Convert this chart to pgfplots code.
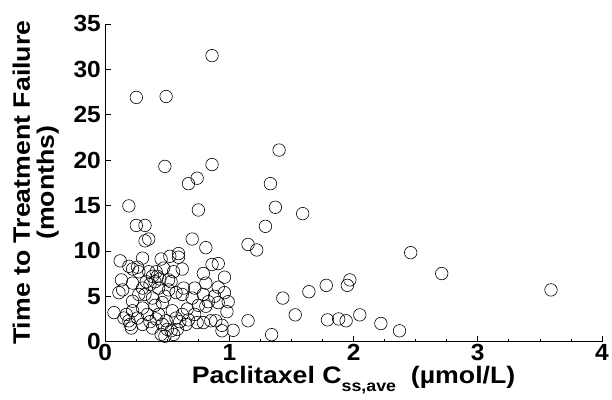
\documentclass[border=0pt]{standalone}
\usepackage{fontspec}
\setmainfont{Liberation Sans}
\newfontfamily\ticfont[FakeStretch=1.05]{Liberation Sans}
\newfontfamily\lblfont[FakeStretch=1.12]{Liberation Sans}
\usepackage{pgfplots}
\pgfplotsset{compat=1.18}

\pgfplotstableread{
x y
0.86 31.5
0.25 26.9
0.49 27.0
0.48 19.3
0.86 19.5
1.40 21.1
0.74 18.0
0.67 17.4
1.33 17.4
0.19 14.95
0.75 14.5
1.37 14.8
1.59 14.1
0.25 12.8
0.32 12.8
1.29 12.7
0.32 11.1
0.35 11.3
0.70 11.3
0.81 10.35
1.15 10.7
1.22 10.1
2.46 9.8
2.71 7.5
1.97 6.8
1.95 6.2
1.78 6.2
1.64 5.5
1.43 4.8
1.53 2.95
1.15 2.3
1.79 2.4
1.88 2.5
1.94 2.3
2.05 2.95
2.22 2.0
2.37 1.2
1.34 0.77
3.59 5.7
1.03 1.25
0.12 8.9
0.19 8.3
0.22 8.0
0.30 9.2
0.45 9.1
0.52 9.4
0.59 9.7
0.59 9.3
0.62 8.0
0.55 7.7
0.86 8.5
0.91 8.6
0.79 7.5
0.96 7.1
0.81 6.45
0.91 6.0
0.72 5.9
0.63 5.9
0.53 6.6
0.35 7.7
0.38 7.2
0.41 7.7
0.47 8.1
0.27 7.7
0.13 6.8
0.51 6.8
0.22 6.45
0.30 5.9
0.43 5.9
0.14 5.7
0.51 5.7
0.99 4.4
0.96 5.4
0.91 4.3
0.83 4.4
0.85 2.3
0.79 2.1
0.89 2.3
0.94 1.8
0.94 1.2
0.74 2.1
0.67 2.4
0.62 3.0
0.62 5.2
0.70 4.8
0.79 5.2
0.81 3.9
0.57 5.4
0.54 3.4
0.58 1.35
0.55 0.8
0.11 5.4
0.07 3.2
0.17 3.0
0.19 2.3
0.21 1.5
0.30 1.9
0.30 3.7
0.22 4.45
0.38 4.8
0.27 5.2
0.43 3.0
0.49 2.3
0.50 1.35
0.53 1.2
0.38 1.5
0.22 3.4
0.32 5.2
0.36 6.3
0.40 6.6
0.44 6.9
0.33 6.6
0.46 4.3
0.40 4.0
0.34 3.0
0.26 2.6
0.41 2.5
0.46 1.9
0.15 2.6
0.20 1.9
0.36 2.2
0.42 7.2
0.48 5.0
0.66 3.6
0.72 3.0
0.75 4.0
0.88 5.0
0.98 3.3
0.57 2.6
0.60 2.2
0.45 0.8
0.48 0.6
0.65 1.9
0.26 8.2
}\ttfdata

\begin{document}
\begin{tikzpicture}
\begin{axis}[
    name=ax,
    scale only axis,
    width=500pt, height=320pt,
    xmin=0, xmax=4, ymin=0, ymax=35,
    axis lines=left,
    axis line style={-, line width=0.6pt},
    xtick={0,1,2,3,4}, ytick={0,5,...,35},
    minor x tick num=3,
    tick align=inside,
    major tick length=6pt, minor tick length=3pt,
    tick style={black, line width=0.6pt},
    /pgf/number format/assume math mode=true,
    tick label style={font=\fontsize{23.5}{26}\selectfont\ticfont\bfseries},
    xticklabel style={yshift=1pt},
    yticklabel style={xshift=-1pt},
    label style={font=\fontsize{24}{24}\selectfont\lblfont\bfseries},
    xlabel={Paclitaxel C\raisebox{-0.6ex}{\fontsize{16}{16}\selectfont ss,ave}\ \ (µmol/L)},
    xlabel style={yshift=1pt},
    ylabel={Time to Treatment Failure\\(months)},
    ylabel style={align=center, yshift=8pt},
    clip=false,
]
\addplot[only marks, mark=o, mark size=6.3pt, mark options={line width=0.6pt, black}]
    table[x=x, y=y] {\ttfdata};
\end{axis}
\path (ax.south west) ++(-106pt,-58pt) rectangle ++(612pt,402pt);
\end{tikzpicture}
\end{document}
